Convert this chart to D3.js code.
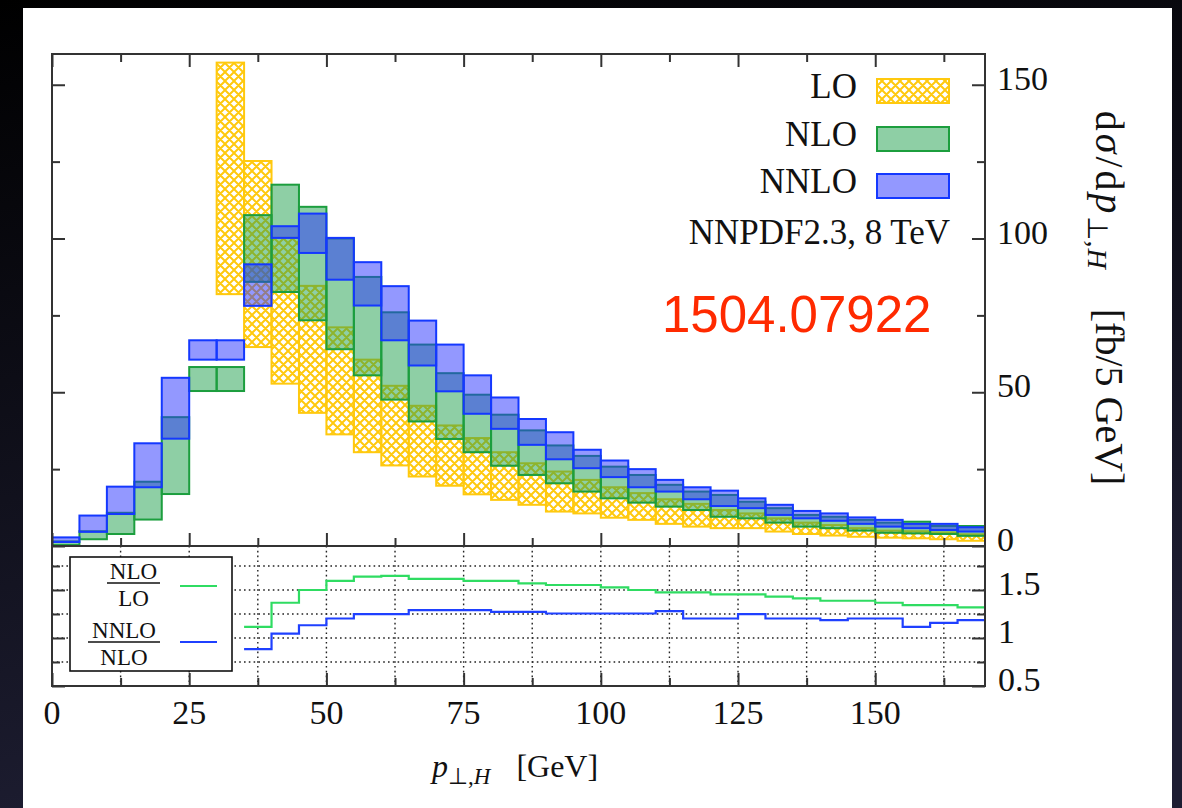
<!DOCTYPE html>
<html><head><meta charset="utf-8">
<script src="https://cdn.jsdelivr.net/npm/d3@7"></script>
<style>html,body{margin:0;padding:0;background:#000;overflow:hidden}</style>
</head><body><svg id="c" width="1182" height="808"></svg>
<script>
// ---- data ----
const binLow   = [0,5,10,15,20,25,30,35,40,45,50,55,60,65,70,75,80,85,90,95,100,105,110,115,120,125,130,135,140,145,150,155,160,165];
const nloLow   = [0.3,2.2,3.9,8.6,16.9,50.4,50.4,85.9,82.6,73.4,64.0,55.5,47.6,40.5,34.8,30.5,26.1,23.1,20.4,17.7,15.5,14.1,12.8,11.7,9.5,9.0,7.6,6.3,5.8,5.0,4.3,4.1,3.9,3.3];
const nloHigh  = [1.5,4.8,10.8,20.9,41.9,58.2,58.2,107.6,117.5,110.3,100.0,87.5,76.0,65.5,56.2,49.2,42.7,37.6,32.7,29.3,25.8,23.1,19.9,17.7,16.6,14.4,12.3,10.1,9.5,8.5,7.6,7.9,6.5,6.5];
const nnloLow  = [1.3,4.6,10.4,19.1,34.9,60.6,60.6,78.1,100.2,95.3,86.6,78.2,66.9,58.7,50.3,43.0,38.1,32.9,28.2,25.3,22.4,19.1,17.7,15.2,13.0,12.3,10.1,9.0,8.2,7.2,6.3,5.8,5.2,4.7];
const nnloHigh = [2.8,9.9,19.3,33.4,54.7,66.9,66.9,91.6,104.0,108.1,100.2,92.3,84.5,73.3,65.5,55.5,48.3,41.3,37.0,31.3,27.8,25.0,21.5,19.1,18.0,15.5,13.4,11.4,10.6,9.3,8.5,7.2,7.2,6.1];
const loBins   = [30,35,40,45,50,55,60,65,70,75,80,85,90,95,100,105,110,115,120,125,130,135,140,145,150,155,160,165];
const loLow    = [81.9,64.7,52.8,43.3,36.3,30.5,26.2,22.6,19.6,16.8,15.0,13.4,11.2,10.6,9.2,8.5,7.2,6.3,5.8,5.8,4.7,3.9,3.4,3.0,2.7,2.5,2.2,1.7];
const loHigh   = [157.2,125.2,100.2,84.6,71.1,60.6,52.1,45.6,39.2,35.1,30.5,26.9,24.2,21.5,19.1,17.2,15.2,13.7,11.7,10.6,9.0,7.6,6.8,5.8,5.0,4.8,4.4,3.8];
const ratioBins    = [35,40,45,50,55,60,65,70,75,80,85,90,95,100,105,110,115,120,125,130,135,140,145,150,155,160,165];
const ratioNloLo   = [1.115,1.367,1.5,1.594,1.639,1.647,1.615,1.615,1.594,1.594,1.57,1.552,1.552,1.528,1.5,1.476,1.476,1.455,1.455,1.43,1.413,1.388,1.388,1.367,1.343,1.343,1.318];
const ratioNnloNlo = [0.885,1.046,1.133,1.203,1.248,1.248,1.29,1.29,1.29,1.273,1.273,1.255,1.255,1.255,1.255,1.28,1.203,1.203,1.248,1.203,1.203,1.186,1.203,1.203,1.115,1.157,1.186];
const binWidth = 5;
const xMajor = [0,25,50,75,100,125,150];
const xMinor = [12.5,37.5,62.5,87.5,112.5,137.5,162.5];
const xGrid  = [12.5,25,37.5,50,62.5,75,87.5,100,112.5,125,137.5,150,162.5];
const yMajor = [0,50,100,150];
const yMinor = [25,75,125];
const rMajor = [0.5,1,1.5];
const rMinor = [0.75,1.25,1.75];
const rGrid  = [0.75,1,1.25,1.5,1.75];
const legendLabels = ["LO","NLO","NNLO"];

// ---- layout ----
const svg = d3.select("#c");
const L=52, R=985, T=54, M=546, B=686;
const x  = d3.scaleLinear().domain([0,170]).range([L,R]);
const y  = d3.scaleLinear().domain([0,160]).range([M,T]);
const yr = d3.scaleLinear().domain([0.5,1.9583]).range([B,M]);
const serif = "'Liberation Serif','Times New Roman',serif";
const cLO="#ffc90e", cNLOs="#1c9e3e", cNLOf="rgba(30,160,75,0.5)", cNNLOs="#1438ff", cNNLOf="rgba(40,50,255,0.5)";

const defs = svg.append("defs");
const bg = defs.append("linearGradient").attr("id","bg").attr("x1",0).attr("y1",0).attr("x2",0.3).attr("y2",1);
bg.append("stop").attr("offset","0").attr("stop-color","#000");
bg.append("stop").attr("offset","1").attr("stop-color","#1e1e33");
const pat = defs.append("pattern").attr("id","hatch").attr("patternUnits","userSpaceOnUse").attr("width",9).attr("height",9);
pat.append("path").attr("d","M0,0L9,9M9,0L0,9M-1,8L1,10M8,-1L10,1M-1,1L1,-1M8,10L10,8")
  .attr("stroke",cLO).attr("stroke-width",2).attr("fill","none");
defs.append("clipPath").attr("id","clipMain").append("rect").attr("x",L).attr("y",T).attr("width",R-L).attr("height",M-T);
defs.append("clipPath").attr("id","clipRatio").append("rect").attr("x",L).attr("y",M).attr("width",R-L).attr("height",B-M);

svg.append("rect").attr("width",1182).attr("height",808).attr("fill","url(#bg)");
svg.append("rect").attr("x",23).attr("y",8).attr("width",1149).attr("height",800).attr("fill","#fff");

// ---- main bands ----
const gm = svg.append("g").attr("clip-path","url(#clipMain)");
gm.selectAll("rect.lo").data(loBins).join("rect").attr("class","lo")
  .attr("x",d=>x(d)).attr("width",d=>x(d+binWidth)-x(d))
  .attr("y",(d,i)=>y(loHigh[i])).attr("height",(d,i)=>y(loLow[i])-y(loHigh[i]))
  .attr("fill","url(#hatch)").attr("stroke",cLO).attr("stroke-width",2);
gm.selectAll("rect.nlo").data(binLow).join("rect").attr("class","nlo")
  .attr("x",d=>x(d)).attr("width",d=>x(d+binWidth)-x(d))
  .attr("y",(d,i)=>y(nloHigh[i])).attr("height",(d,i)=>y(nloLow[i])-y(nloHigh[i]))
  .attr("fill",cNLOf).attr("stroke",cNLOs).attr("stroke-width",2);
gm.selectAll("rect.nnlo").data(binLow).join("rect").attr("class","nnlo")
  .attr("x",d=>x(d)).attr("width",d=>x(d+binWidth)-x(d))
  .attr("y",(d,i)=>y(nnloHigh[i])).attr("height",(d,i)=>y(nnloLow[i])-y(nnloHigh[i]))
  .attr("fill",cNNLOf).attr("stroke",cNNLOs).attr("stroke-width",2);

// ---- ratio grid ----
const gridStyle = s=>s.attr("stroke","#222").attr("stroke-width",1.4).attr("stroke-dasharray","1.6,3.2");
svg.append("g").selectAll("line").data(xGrid).join("line")
  .attr("x1",d=>x(d)).attr("x2",d=>x(d)).attr("y1",M).attr("y2",B).call(gridStyle);
svg.append("g").selectAll("line").data(rGrid).join("line")
  .attr("x1",L).attr("x2",R).attr("y1",d=>yr(d)).attr("y2",d=>yr(d)).call(gridStyle);

// ratio lines
const stepPts = (bins, vals) => bins.flatMap((b,i)=>[[x(b),yr(vals[i])],[x(b+binWidth),yr(vals[i])]]);
const line = d3.line();
const gr = svg.append("g").attr("clip-path","url(#clipRatio)");
gr.append("path").attr("d",line(stepPts(ratioBins,ratioNloLo))).attr("fill","none").attr("stroke","#2fdc62").attr("stroke-width",2.2);
gr.append("path").attr("d",line(stepPts(ratioBins,ratioNnloNlo))).attr("fill","none").attr("stroke","#1f40ff").attr("stroke-width",2.2);

// ratio legend
const rl = svg.append("g");
rl.append("rect").attr("x",70).attr("y",557).attr("width",162).attr("height",114).attr("fill","#fff").attr("stroke","#111").attr("stroke-width",1.6);
const frac = (cx, top, bot, yb, x0, x1) => {
  rl.append("text").attr("x",cx).attr("y",yb-4).attr("text-anchor","middle").attr("font-family",serif).attr("font-size",23).attr("fill","#111").text(top);
  rl.append("line").attr("x1",x0).attr("x2",x1).attr("y1",yb).attr("y2",yb).attr("stroke","#111").attr("stroke-width",1.5);
  rl.append("text").attr("x",cx).attr("y",yb+23).attr("text-anchor","middle").attr("font-family",serif).attr("font-size",23).attr("fill","#111").text(bot);
};
frac(133.5, legendLabels[1], legendLabels[0], 583, 107, 160);
frac(124, legendLabels[2], legendLabels[1], 642, 88, 160);
rl.append("line").attr("x1",180).attr("x2",217).attr("y1",586).attr("y2",586).attr("stroke","#2fdc62").attr("stroke-width",2.2);
rl.append("line").attr("x1",180).attr("x2",217).attr("y1",642).attr("y2",642).attr("stroke","#1f40ff").attr("stroke-width",2.2);

// ---- frames and ticks ----
const frame = svg.append("g").attr("fill","none").attr("stroke","#333").attr("stroke-width",2);
frame.append("rect").attr("x",L).attr("y",T).attr("width",R-L).attr("height",M-T);
frame.append("rect").attr("x",L).attr("y",M).attr("width",R-L).attr("height",B-M);
function tk(tr, axisFn, scale, vals, size){
  const g = svg.append("g").attr("transform",tr)
    .call(axisFn(scale).tickValues(vals).tickSize(size).tickFormat(""));
  g.select(".domain").remove();
  g.selectAll("line").attr("stroke","#333").attr("stroke-width",2);
}
tk(`translate(0,${T})`, d3.axisTop, x, xMajor, -13);
tk(`translate(0,${T})`, d3.axisTop, x, xMinor, -8);
tk(`translate(0,${M})`, d3.axisBottom, x, xMajor, -13);
tk(`translate(0,${M})`, d3.axisBottom, x, xMinor, -8);
tk(`translate(0,${B})`, d3.axisBottom, x, xMajor, -13);
tk(`translate(0,${B})`, d3.axisBottom, x, xMinor, -8);
tk(`translate(${L},0)`, d3.axisLeft, y, yMajor, -13);
tk(`translate(${L},0)`, d3.axisLeft, y, yMinor, -8);
tk(`translate(${R},0)`, d3.axisRight, y, yMajor, -13);
tk(`translate(${R},0)`, d3.axisRight, y, yMinor, -8);
tk(`translate(${L},0)`, d3.axisLeft, yr, rMajor, -13);
tk(`translate(${L},0)`, d3.axisLeft, yr, rMinor, -8);
tk(`translate(${R},0)`, d3.axisRight, yr, rMajor, -13);
tk(`translate(${R},0)`, d3.axisRight, yr, rMinor, -8);

// tick labels
const lab = svg.append("g").attr("font-family",serif).attr("font-size",34).attr("fill","#111");
lab.selectAll("text.xl").data(xMajor).join("text").attr("class","xl")
  .attr("x",d=>x(d)).attr("y",724).attr("text-anchor","middle").text(d=>d);
lab.selectAll("text.yl").data(yMajor).join("text").attr("class","yl")
  .attr("x",997).attr("y",d=>y(d)+5).text(d=>d);
lab.selectAll("text.rl").data(rMajor).join("text").attr("class","rl")
  .attr("x",998).attr("y",d=>yr(d)+5).text(d=>d);

// main legend
const lg = svg.append("g");
const swY = [79,127,174];
const swFill = ["url(#hatch)", cNLOf, cNNLOf];
const swStroke = [cLO, cNLOs, cNNLOs];
legendLabels.forEach((t,i)=>{
  lg.append("text").attr("x",857).attr("y",swY[i]+19).attr("text-anchor","end")
    .attr("font-family",serif).attr("font-size",35).attr("fill","#111").text(t);
  lg.append("rect").attr("x",877).attr("y",swY[i]).attr("width",72).attr("height",24)
    .attr("fill",swFill[i]).attr("stroke",swStroke[i]).attr("stroke-width",2);
});
lg.append("text").attr("x",950).attr("y",244).attr("text-anchor","end")
  .attr("font-family",serif).attr("font-size",35).attr("fill","#111").text("NNPDF2.3, 8 TeV");

// arXiv id
svg.append("text").attr("x",662).attr("y",332).attr("font-family","'Liberation Sans',Arial,sans-serif")
  .attr("font-size",51).attr("fill","#ff2a00").text("1504.07922");

// x title
const xt = svg.append("text").attr("x",432).attr("y",777).attr("font-family",serif).attr("font-size",32).attr("fill","#111");
xt.append("tspan").attr("font-style","italic").text("p");
xt.append("tspan").attr("dy",7).attr("font-size",23).text("⊥,");
xt.append("tspan").attr("font-size",23).attr("font-style","italic").text("H");
xt.append("tspan").attr("dy",-7).attr("dx",10).text("\u00a0\u00a0[GeV]");

// y title (rotated)
const yt = svg.append("text").attr("transform","translate(1096,298) rotate(90)").attr("text-anchor","middle")
  .attr("font-family",serif).attr("font-size",40).attr("fill","#111");
yt.append("tspan").attr("letter-spacing",3).text("d");
yt.append("tspan").attr("font-style","italic").attr("letter-spacing",3).text("σ");
yt.append("tspan").attr("letter-spacing",3).text("/d");
yt.append("tspan").attr("font-style","italic").attr("letter-spacing",2).text("p");
yt.append("tspan").attr("dy",8).attr("font-size",28).attr("letter-spacing",1).text("⊥,");
yt.append("tspan").attr("font-size",28).attr("font-style","italic").text("H");
yt.append("tspan").attr("dy",-8).text("\u00a0\u00a0\u00a0\u00a0[fb/5 GeV]");
</script></body></html>
